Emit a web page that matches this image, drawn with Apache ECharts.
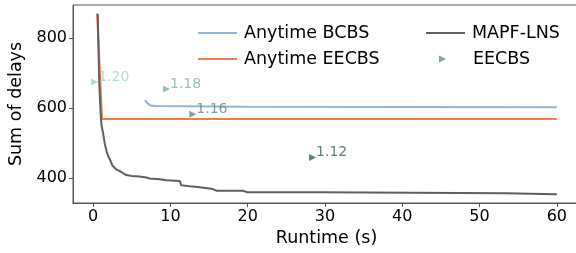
<!DOCTYPE html>
<html>
<head>
<meta charset="utf-8">
<script src="https://cdn.jsdelivr.net/npm/echarts@6/dist/echarts.min.js"></script>
<style>
  html, body { margin: 0; padding: 0; background: #fff; }
  #chart { width: 576px; height: 253px; }
</style>
</head>
<body>
<div id="chart"></div>
<script>
var bcbsTime  = [6.7, 7.0, 7.4, 8.0, 20, 60];
var bcbsDelay = [622, 614, 607, 605, 603, 602];

var eecbsAnyTime  = [0.52, 1.16, 60];
var eecbsAnyDelay = [870, 568, 568];

var lnsTime  = [0.6, 0.7, 0.8, 0.95, 1.08, 1.3, 1.5, 1.75, 2.0, 2.2, 2.5, 2.7, 3.0, 3.4, 3.9, 4.3, 5.0, 6.0, 6.9, 7.3, 8.6, 9.5, 11.2, 11.4, 12.5, 13.8, 15.3, 16.0, 19.4, 19.9, 29.5, 29.6, 53.3, 53.4, 60];
var lnsDelay = [868, 766, 671, 594, 551, 527, 499, 475, 460, 451, 435, 430, 424, 420, 413, 408, 405, 404, 401, 398, 396, 393, 391, 379, 376, 373, 369, 363, 363, 359, 359, 356, 356, 353, 353];

var eecbsTime   = [0.2, 9.5, 12.9, 28.4];
var eecbsDelay  = [674, 654, 582, 458];
var eecbsWeight = ['1.20', '1.18', '1.16', '1.12'];
var eecbsColors = ['#a9d1c3', '#80b19e', '#5c8d7b', '#3d5f55'];

var xTicks = [0, 10, 20, 30, 40, 50, 60];
var yTicks = [400, 600, 800];

var font = 'DejaVu Sans';
var triPath = 'path://M0,0L10,5L0,10Z';

function pairs(xs, ys) {
  var out = [];
  for (var i = 0; i < xs.length; i++) {
    out.push([xs[i], ys[i]]);
  }
  return out;
}

var eecbsData = [];
for (var i = 0; i < eecbsTime.length; i++) {
  eecbsData.push({
    value: [eecbsTime[i], eecbsDelay[i]],
    name: eecbsWeight[i],
    itemStyle: { color: eecbsColors[i] },
    label: { color: eecbsColors[i] }
  });
}

var legendText = { fontFamily: font, fontSize: 17.5, lineHeight: 18, color: '#000', padding: [0, 0, 0, 2] };

var chart = echarts.init(document.getElementById('chart'), null, { renderer: 'canvas' });

var option = {
  animation: false,
  backgroundColor: '#fff',
  textStyle: { fontFamily: font },
  grid: {
    left: 73, right: -4, top: 5, bottom: 50,
    outerBoundsMode: 'none', containLabel: false,
    show: true, borderColor: '#555', borderWidth: 1, backgroundColor: 'transparent'
  },
  legend: [{
    data: [
      { name: 'Anytime BCBS', icon: 'rect', itemStyle: { color: '#93b6d8' } },
      { name: 'Anytime EECBS', icon: 'rect', itemStyle: { color: '#ec8148' } }
    ],
    orient: 'vertical', left: 193, top: 19,
    itemWidth: 39, itemHeight: 2, itemGap: 8,
    textStyle: legendText
  }, {
    data: [{ name: 'MAPF-LNS', icon: 'rect', itemStyle: { color: '#645d60' } }],
    orient: 'vertical', left: 421, top: 19,
    itemWidth: 39, itemHeight: 2,
    textStyle: legendText
  }, {
    data: [{ name: 'EECBS', icon: triPath, itemStyle: { color: '#5c8d7b' } }],
    orient: 'vertical', left: 434, top: 45,
    itemWidth: 7, itemHeight: 7,
    textStyle: { fontFamily: font, fontSize: 17.5, lineHeight: 18, color: '#000', padding: [0, 0, 0, 22] }
  }],
  xAxis: {
    type: 'value', min: -2.6, max: 63,
    name: 'Runtime (s)', nameLocation: 'middle', nameGap: 25,
    nameTextStyle: { fontFamily: font, fontSize: 17.5, color: '#000' },
    axisLine: { show: true, onZero: false, lineStyle: { color: '#555' } },
    axisTick: { show: true, length: 4, customValues: xTicks, lineStyle: { color: '#555' } },
    axisLabel: { customValues: xTicks, fontFamily: font, fontSize: 16, color: '#000', margin: 6 },
    splitLine: { show: false }
  },
  yAxis: {
    type: 'value', min: 328, max: 894,
    name: 'Sum of delays', nameLocation: 'middle', nameGap: 46,
    nameTextStyle: { fontFamily: font, fontSize: 17.5, color: '#000' },
    axisLine: { show: true, onZero: false, lineStyle: { color: '#555' } },
    axisTick: { show: true, length: 4, customValues: yTicks, lineStyle: { color: '#555' } },
    axisLabel: { customValues: yTicks, fontFamily: font, fontSize: 16, color: '#000', margin: 6 },
    splitLine: { show: false }
  },
  series: [{
    name: 'Anytime BCBS', type: 'line', symbol: 'none',
    data: pairs(bcbsTime, bcbsDelay),
    lineStyle: { color: '#93b6d8', width: 2 }, itemStyle: { color: '#93b6d8' }
  }, {
    name: 'Anytime EECBS', type: 'line', symbol: 'none',
    data: pairs(eecbsAnyTime, eecbsAnyDelay),
    lineStyle: { color: '#ec8148', width: 2 }, itemStyle: { color: '#ec8148' }
  }, {
    name: 'MAPF-LNS', type: 'line', symbol: 'none',
    data: pairs(lnsTime, lnsDelay),
    lineStyle: { color: '#645d60', width: 2 }, itemStyle: { color: '#645d60' }
  }, {
    name: 'EECBS', type: 'scatter', symbol: triPath, symbolSize: 7,
    data: eecbsData,
    itemStyle: { color: '#5c8d7b' },
    label: {
      show: true, position: 'right', distance: 0, offset: [0, -5],
      formatter: function (p) { return p.name; },
      fontFamily: font, fontSize: 14
    },
    z: 5
  }]
};

chart.setOption(option);
</script>
</body>
</html>
